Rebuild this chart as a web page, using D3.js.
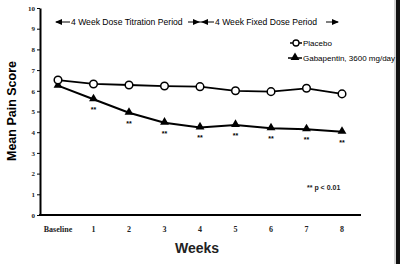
<!DOCTYPE html>
<html>
<head>
<meta charset="utf-8">
<script src="https://cdn.jsdelivr.net/npm/d3@7"></script>
<style>
  body { margin: 0; background: #fff; }
  svg { display: block; }
</style>
</head>
<body>
<div id="chart"></div>
<script>
// data
var weeks = ["Baseline", "1", "2", "3", "4", "5", "6", "7", "8"];
var placebo = [6.52, 6.33, 6.28, 6.23, 6.2, 6.0, 5.96, 6.12, 5.85];
var gabapentin = [6.25, 5.59, 4.94, 4.46, 4.23, 4.35, 4.19, 4.14, 4.02];
var significant = [false, true, true, true, true, true, true, true, true];
var yTicks = [0, 1, 2, 3, 4, 5, 6, 7, 8, 9, 10];

var width = 400, height = 264;

var svg = d3.select("#chart")
  .append("svg")
  .attr("width", width)
  .attr("height", height);

var x = d3.scalePoint().domain(weeks).range([58, 342]);
var y = d3.scaleLinear().domain([0, 10]).range([215, 8]);

// right edge frame
svg.append("rect").attr("x", 396).attr("y", 0).attr("width", 4).attr("height", height).style("fill", "#111");
svg.append("line").attr("x1", 395).attr("x2", 395).attr("y1", 0).attr("y2", height)
  .style("stroke", "#aaa").style("stroke-width", 1);

// y axis
var yAxis = svg.append("g")
  .attr("transform", "translate(40,0)")
  .call(d3.axisLeft(y).tickValues(yTicks).tickSize(3).tickSizeOuter(0).tickPadding(2));
yAxis.select(".domain").style("stroke-width", 2);
yAxis.selectAll(".tick line").style("stroke-width", 1);
yAxis.selectAll(".tick text")
  .style("font-family", "Liberation Serif, serif")
  .style("font-weight", "bold")
  .style("font-size", "7px")
  .style("fill", "#222");

// x axis line
svg.append("line")
  .attr("x1", 39).attr("x2", 361)
  .attr("y1", y(0)).attr("y2", y(0))
  .style("stroke", "#000").style("stroke-width", 2);

svg.selectAll(".xlab")
  .data(weeks)
  .enter()
  .append("text")
  .attr("class", "xlab")
  .attr("x", function (d) { return x(d); })
  .attr("y", 232)
  .attr("text-anchor", "middle")
  .style("font-family", "Liberation Serif, serif")
  .style("font-weight", "bold")
  .style("font-size", "8px")
  .style("fill", "#222")
  .text(function (d) { return d; });

// axis titles
svg.append("text")
  .attr("transform", "translate(16,111) rotate(-90)")
  .attr("text-anchor", "middle")
  .style("font-family", "Liberation Sans, Arial, sans-serif")
  .style("font-weight", "bold")
  .style("font-size", "12.5px")
  .text("Mean Pain Score");

svg.append("text")
  .attr("x", 197).attr("y", 253)
  .attr("text-anchor", "middle")
  .style("font-family", "Liberation Sans, Arial, sans-serif")
  .style("font-weight", "bold")
  .style("font-size", "14px")
  .style("fill", "#222")
  .text("Weeks");

// lines
var line = d3.line()
  .x(function (d, i) { return x(weeks[i]); })
  .y(function (d) { return y(d); });

svg.append("path").datum(placebo).attr("d", line)
  .style("fill", "none").style("stroke", "#000").style("stroke-width", 1.8);
svg.append("path").datum(gabapentin).attr("d", line)
  .style("fill", "none").style("stroke", "#000").style("stroke-width", 2);

var tri = d3.symbol().type(d3.symbolTriangle).size(34);

svg.selectAll(".tri")
  .data(gabapentin)
  .enter()
  .append("path")
  .attr("class", "tri")
  .attr("d", tri)
  .attr("transform", function (d, i) { return "translate(" + x(weeks[i]) + "," + (y(d) - 0.5) + ")"; })
  .style("fill", "#000");

svg.selectAll(".circ")
  .data(placebo)
  .enter()
  .append("circle")
  .attr("class", "circ")
  .attr("cx", function (d, i) { return x(weeks[i]); })
  .attr("cy", function (d) { return y(d); })
  .attr("r", 3.8)
  .style("fill", "#fff")
  .style("stroke", "#000")
  .style("stroke-width", 1.5);

// significance stars
svg.selectAll(".star")
  .data(gabapentin)
  .enter()
  .filter(function (d, i) { return significant[i]; })
  .append("text")
  .attr("class", "star")
  .attr("x", function (d, i) { return x(weeks[i + 1]); })
  .attr("y", function (d) { return y(d) + 13; })
  .attr("text-anchor", "middle")
  .style("font-family", "Liberation Sans, Arial, sans-serif")
  .style("font-weight", "bold")
  .style("font-size", "7px")
  .text("**");

svg.append("text")
  .attr("x", 307).attr("y", 190)
  .style("font-family", "Liberation Sans, Arial, sans-serif")
  .style("font-weight", "bold")
  .style("font-size", "7px")
  .style("fill", "#222")
  .text("** p < 0.01");

// period header with arrows
var arrowFont = { family: "Liberation Sans, Arial, sans-serif", size: "8.6px" };
function arrowHead(tipX, yy, dir) {
  svg.append("path")
    .attr("d", "M" + tipX + "," + yy + "l" + (-7 * dir) + ",-3l0,6z")
    .style("fill", "#000");
}
var hy = 22;
svg.append("line").attr("x1", 56).attr("x2", 70).attr("y1", hy).attr("y2", hy).style("stroke", "#000").style("stroke-width", 1);
arrowHead(55, hy, -1);
svg.append("text").attr("x", 71).attr("y", hy + 3)
  .style("font-family", arrowFont.family).style("font-size", arrowFont.size)
  .text("4 Week Dose Titration Period");
svg.append("line").attr("x1", 188).attr("x2", 214).attr("y1", hy).attr("y2", hy).style("stroke", "#000").style("stroke-width", 1);
arrowHead(200, hy, 1);
arrowHead(201, hy, -1);
svg.append("text").attr("x", 215).attr("y", hy + 3)
  .style("font-family", arrowFont.family).style("font-size", arrowFont.size)
  .text("4 Week Fixed Dose Period");
svg.append("line").attr("x1", 326).attr("x2", 338).attr("y1", hy).attr("y2", hy).style("stroke", "#000").style("stroke-width", 1);
arrowHead(339, hy, 1);

// legend
svg.append("line").attr("x1", 290).attr("x2", 302).attr("y1", 43).attr("y2", 43).style("stroke", "#000").style("stroke-width", 1.5);
svg.append("circle").attr("cx", 296).attr("cy", 43).attr("r", 3).style("fill", "#fff").style("stroke", "#000").style("stroke-width", 1.3);
svg.append("text").attr("x", 303).attr("y", 46)
  .style("font-family", "Liberation Sans, Arial, sans-serif").style("font-size", "8px")
  .text("Placebo");
svg.append("line").attr("x1", 288).attr("x2", 302).attr("y1", 58).attr("y2", 58).style("stroke", "#000").style("stroke-width", 1.5);
svg.append("path").attr("d", tri).attr("transform", "translate(295,57.5)").style("fill", "#000");
svg.append("text").attr("x", 303).attr("y", 61)
  .style("font-family", "Liberation Sans, Arial, sans-serif").style("font-size", "8px")
  .text("Gabapentin, 3600 mg/day");
</script>
</body>
</html>
